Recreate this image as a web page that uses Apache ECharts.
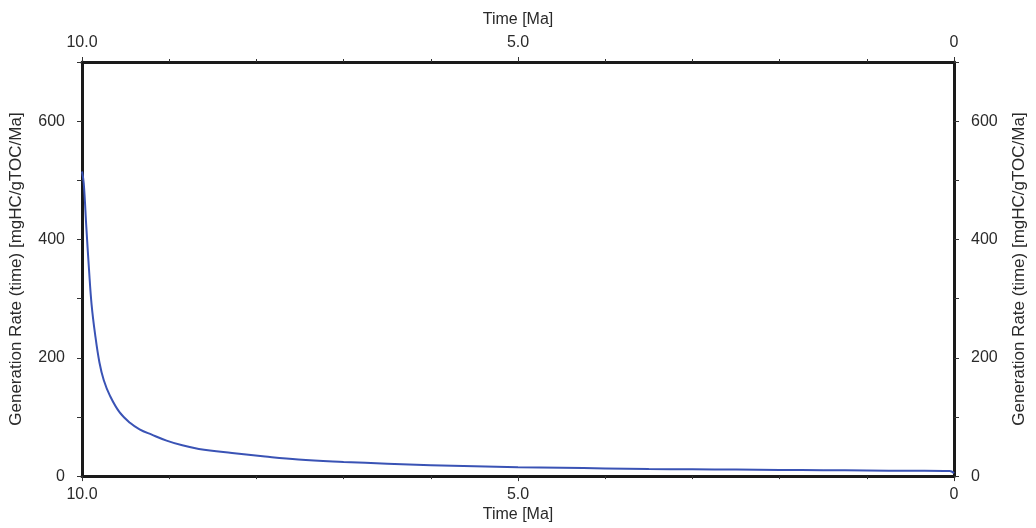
<!DOCTYPE html>
<html>
<head>
<meta charset="utf-8">
<script src="https://cdn.jsdelivr.net/npm/echarts@6/dist/echarts.min.js"></script>
<style>html,body{margin:0;padding:0;background:#fff;overflow:hidden}#c{width:1036px;height:528px}</style>
</head>
<body>
<div id="c"></div>
<script>
var timeMa = [10.0, 9.98, 9.95, 9.92, 9.89, 9.85, 9.80, 9.75, 9.68, 9.57, 9.45, 9.34, 9.20, 9.03, 8.85, 8.66, 8.28, 7.90, 7.52, 7.00, 6.50, 6.00, 5.50, 5.00, 4.50, 4.00, 3.50, 3.00, 2.50, 2.00, 1.50, 1.00, 0.50, 0.05, 0.0];
var genRate = [515, 495, 420, 350, 290, 240, 192, 162, 136, 108, 90, 79, 70, 60, 52, 46, 39, 33, 28, 24, 21, 18.5, 16.5, 15, 14, 13, 12, 11.5, 11, 10.5, 10, 9.5, 9, 8.5, 5];
var xTicks = [10, 5, 0];
var yLabelValues = [0, 200, 400, 600];
var xName = 'Time [Ma]';
var yName = 'Generation Rate (time) [mgHC/gTOC/Ma]';

var font = 'Liberation Sans, Arial, sans-serif';
var txt = '#2a2a2a';
function xFmt(v){ return v === 0 ? '0' : v.toFixed(1); }
function yFmt(v){ return yLabelValues.indexOf(v) >= 0 ? String(v) : ''; }

function xAxis(pos, gap, margin){
  return {
    type:'value', position:pos, min:0, max:10, interval:5, inverse:true,
    name:xName, nameLocation:'middle', nameGap:gap,
    nameTextStyle:{color:txt, fontFamily:font, fontSize:16},
    axisLine:{show:true, onZero:false, lineStyle:{color:'#1a1a1a', width:3}},
    axisTick:{show:true, inside:false, length:5, lineStyle:{color:'#333', width:1}},
    minorTick:{show:true, splitNumber:5, length:3, lineStyle:{color:'#333', width:1}},
    splitLine:{show:false},
    axisLabel:{formatter:xFmt, color:txt, fontFamily:font, fontSize:16, margin:margin}
  };
}
function yAxis(pos, gap){
  return {
    type:'value', position:pos, min:0, max:700, interval:100,
    name:yName, nameLocation:'middle', nameGap:gap,
    nameTextStyle:{color:txt, fontFamily:font, fontSize:17},
    axisLine:{show:true, onZero:false, lineStyle:{color:'#1a1a1a', width:3}},
    axisTick:{show:true, inside:false, length:5, lineStyle:{color:'#333', width:1}},
    splitLine:{show:false},
    axisLabel:{formatter:yFmt, color:txt, fontFamily:font, fontSize:16, margin:17}
  };
}

var data = timeMa.map(function(t,i){ return [t, genRate[i]]; });
var chart = echarts.init(document.getElementById('c'), null, {renderer:'canvas'});
chart.setOption({
  animation:false,
  backgroundColor:'#fff',
  grid:{left:82, right:74, top:62, bottom:51},
  xAxis:[xAxis('bottom', 30, 10), xAxis('top', 34, 11)],
  yAxis:[yAxis('left', 57), yAxis('right', 57)],
  series:[{
    type:'line', xAxisIndex:0, yAxisIndex:0, data:data, smooth:0.4,
    showSymbol:false, clip:true, lineStyle:{color:'#3a53b5', width:2}
  }]
});
</script>
</body>
</html>
